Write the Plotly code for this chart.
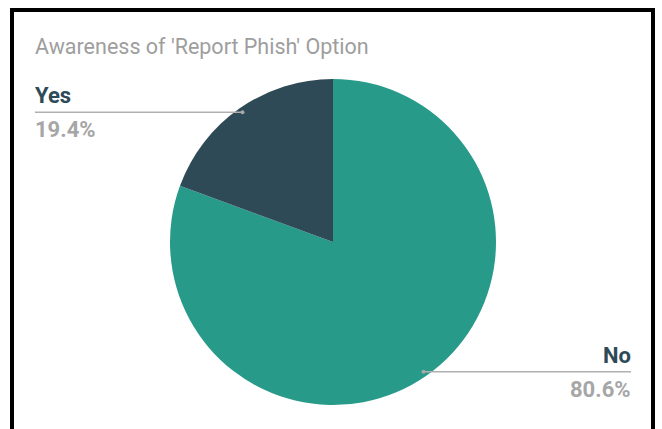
import numpy as np
import plotly.graph_objects as go

# Survey answers
labels = ["Yes", "No"]
values = [19.4, 80.6]
colors = ["#2e4a57", "#279a8a"]
label_color = "#2e4a57"
title_text = "Awareness of 'Report Phish' Option"

W, H = 662, 429
cx, cy, r = 333, 242, 163  # pie centre and radius in pixels


def px(x):
    return x / W


def py(y):
    return 1 - y / H


# Drawn clockwise in reverse order so "Yes" ends at 12 o'clock on the left
fig = go.Figure(
    go.Pie(
        labels=labels[::-1],
        values=values[::-1],
        marker=dict(colors=colors[::-1], line=dict(width=0)),
        sort=False,
        direction="clockwise",
        rotation=0,
        textinfo="none",
        hoverinfo="label+percent",
        showlegend=False,
        domain=dict(x=[px(cx - r), px(cx + r)], y=[py(cy + r), py(cy - r)]),
    )
)

shapes = [
    # frame around the chart
    dict(type="rect", xref="paper", yref="paper",
         x0=px(12), x1=px(653), y0=py(10), y1=py(460),
         line=dict(color="black", width=4), fillcolor="rgba(0,0,0,0)"),
]
annotations = [
    dict(text=title_text, xref="paper", yref="paper", x=px(33), y=py(47),
         xanchor="left", yanchor="middle", showarrow=False,
         font=dict(family="Roboto", size=21.5, color="#9e9e9e")),
]

# Leader lines and labels placed from each slice's mid angle
total = sum(values)
start = 0.0
for lab, val in zip(labels, values):
    mid = (start + val / 2) / total * 2 * np.pi
    start += val
    # "Yes" sits counterclockwise from 12 o'clock
    dx = -np.sin(mid) * r * 0.97
    dy = -np.cos(mid) * r * 0.97
    dot_x, dot_y = cx + dx, cy + dy
    if dx < 0:
        x_end, text_x, anchor = 35, 33, "left"
    else:
        x_end, text_x, anchor = 631, 633, "right"
    shapes.append(dict(type="line", xref="paper", yref="paper",
                       x0=px(dot_x), x1=px(x_end), y0=py(dot_y), y1=py(dot_y),
                       line=dict(color="#b0b0b0", width=1.5)))
    shapes.append(dict(type="circle", xref="paper", yref="paper",
                       x0=px(dot_x - 2), x1=px(dot_x + 2),
                       y0=py(dot_y - 2), y1=py(dot_y + 2),
                       line=dict(width=0), fillcolor="#a8a8a8"))
    annotations.append(dict(text=f"<b>{lab}</b>", xref="paper", yref="paper",
                            x=px(text_x), y=py(dot_y - 2), xanchor=anchor,
                            yanchor="bottom", showarrow=False,
                            font=dict(family="Roboto", size=22, color=label_color)))
    annotations.append(dict(text=f"<b>{val:.1f}%</b>", xref="paper", yref="paper",
                            x=px(text_x), y=py(dot_y + 3), xanchor=anchor,
                            yanchor="top", showarrow=False,
                            font=dict(family="Roboto", size=22, color="#a6a6a6")))

fig.update_layout(
    width=W, height=H,
    margin=dict(l=0, r=0, t=0, b=0),
    paper_bgcolor="white",
    plot_bgcolor="white",
    shapes=shapes,
    annotations=annotations,
)

fig.write_html("out.html")
